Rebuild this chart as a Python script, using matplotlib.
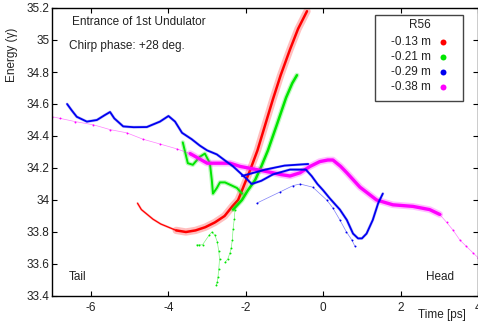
import matplotlib
matplotlib.use("Agg")
import matplotlib.pyplot as plt
from matplotlib.lines import Line2D
from matplotlib.patches import Rectangle

plt.rcParams["font.family"] = ["Liberation Sans", "DejaVu Sans"]
plt.rcParams["axes.unicode_minus"] = False

# ---- data (time [ps], energy [gamma]) ----
red_tail_t = [-4.80, -4.70, -4.55, -4.40, -4.20, -4.00, -3.80]
red_tail_e = [33.98, 33.94, 33.91, 33.88, 33.85, 33.83, 33.81]
red_band_t = [-3.80, -3.55, -3.30, -3.05, -2.80, -2.55, -2.35, -2.20, -2.05,
              -1.90, -1.70, -1.50, -1.30, -1.10, -0.86, -0.65, -0.42]
red_band_e = [33.81, 33.80, 33.81, 33.83, 33.86, 33.90, 33.96, 34.00, 34.09,
              34.18, 34.31, 34.47, 34.63, 34.78, 34.94, 35.07, 35.18]

green_band_t = [-2.33, -2.10, -1.95, -1.76, -1.60, -1.43, -1.20, -0.96, -0.80, -0.68]
green_band_e = [33.94, 34.00, 34.06, 34.125, 34.21, 34.31, 34.47, 34.64, 34.73, 34.78]
green_squig_t = [-3.63, -3.50, -3.37, -3.19, -3.06, -2.93, -2.88, -2.85,
                 -2.75, -2.67, -2.54, -2.36, -2.23, -2.10]
green_squig_e = [34.36, 34.23, 34.22, 34.27, 34.29, 34.23, 34.125, 34.04,
                 34.075, 34.11, 34.11, 34.09, 34.075, 34.04]
green_left_t = [-3.27, -3.20, -3.12, -2.95, -2.88, -2.80, -2.74, -2.70,
                -2.68, -2.70, -2.72, -2.74, -2.76]
green_left_e = [33.72, 33.72, 33.72, 33.78, 33.80, 33.78, 33.74, 33.68,
                33.63, 33.57, 33.52, 33.49, 33.47]
green_col_t = [-2.28, -2.30, -2.33, -2.35, -2.38, -2.41, -2.47, -2.54]
green_col_e = [33.94, 33.88, 33.82, 33.75, 33.70, 33.67, 33.63, 33.61]

blue_main_t = [-6.62, -6.50, -6.37, -6.11, -5.85, -5.65, -5.51, -5.40, -5.17,
               -4.90, -4.56, -4.22, -4.00, -3.83, -3.65, -3.40, -3.19, -3.00,
               -2.75, -2.50, -2.33, -2.15, -1.97, -1.85, -1.60, -1.30, -0.86,
               -0.45, -0.30, -0.15, 0.00, 0.17, 0.43, 0.61, 0.77, 0.90, 1.00,
               1.12, 1.28, 1.42, 1.54]
blue_main_e = [34.60, 34.56, 34.52, 34.49, 34.50, 34.53, 34.55, 34.51, 34.46,
               34.455, 34.456, 34.49, 34.525, 34.49, 34.42, 34.38, 34.34, 34.31,
               34.285, 34.24, 34.21, 34.17, 34.13, 34.10, 34.12, 34.16, 34.19,
               34.19, 34.15, 34.10, 34.06, 34.01, 33.94, 33.875, 33.79, 33.76, 33.76,
               33.79, 33.875, 33.98, 34.04]
blue_upper_t = [-2.10, -1.80, -1.50, -1.30, -1.00, -0.70, -0.39]
blue_upper_e = [34.15, 34.17, 34.19, 34.20, 34.215, 34.22, 34.225]
blue_lower_t = [-1.72, -1.12, -0.78, -0.60, -0.27, 0.09, 0.25, 0.43, 0.60, 0.74, 0.82]
blue_lower_e = [33.98, 34.05, 34.09, 34.10, 34.08, 34.00, 33.95, 33.875, 33.80, 33.75, 33.71]

mag_left_t = [-7.00, -6.80, -6.41, -5.94, -5.51, -5.08, -4.66, -4.22, -3.79, -3.44]
mag_left_e = [34.52, 34.51, 34.49, 34.47, 34.44, 34.42, 34.38, 34.35, 34.32, 34.29]
mag_band_t = [-3.44, -3.00, -2.67, -2.41, -2.15, -1.72, -1.30, -1.12, -0.86,
              -0.60, -0.34, -0.09, 0.12, 0.25, 0.45, 0.61, 0.95, 1.38, 1.80,
              2.32, 2.75, 3.01]
mag_band_e = [34.29, 34.23, 34.23, 34.23, 34.21, 34.19, 34.17, 34.16, 34.15,
              34.17, 34.21, 34.24, 34.25, 34.25, 34.21, 34.17, 34.08, 34.00, 33.97,
              33.96, 33.94, 33.91]
mag_tail_t = [3.01, 3.19, 3.36, 3.53, 3.70, 3.87, 4.00]
mag_tail_e = [33.91, 33.86, 33.81, 33.75, 33.71, 33.67, 33.64]

r56_labels = ["-0.13 m", "-0.21 m", "-0.29 m", "-0.38 m"]
colors = ["#ff0000", "#00e600", "#0000f0", "#ff00ff"]

x_ticks = [-6, -4, -2, 0, 2, 4]
y_ticks = [33.4, 33.6, 33.8, 34.0, 34.2, 34.4, 34.6, 34.8, 35.0, 35.2]
y_tick_labels = ["33.4", "33.6", "33.8", "34", "34.2", "34.4", "34.6", "34.8", "35", "35.2"]

W, H = 478, 327
txt = "#222222"
fs = 8.5


def band(ax, t, e, c, lw, halo):
    # sparse scatter look: faint wide halo under a solid core
    if halo:
        ax.plot(t, e, color=c, lw=lw + halo, alpha=0.25, solid_capstyle="round")
    ax.plot(t, e, color=c, lw=lw, solid_capstyle="round")


def sparse(ax, t, e, c):
    ax.plot(t, e, color=c, lw=0.5, alpha=0.5)
    ax.plot(t, e, "o", color=c, ms=1.4, mew=0)


def fx(px):
    return px / W


def fy(py):
    return 1 - py / H


fig = plt.figure(figsize=(W / 100, H / 100), dpi=100)
ax = fig.add_axes([fx(52.4), 31 / H, 425.6 / W, 288 / H])

# red
band(ax, red_tail_t, red_tail_e, colors[0], 0.9, 0.8)
band(ax, red_band_t, red_band_e, colors[0], 1.8, 3.5)
# green
band(ax, green_band_t, green_band_e, colors[1], 1.8, 1.8)
band(ax, green_squig_t, green_squig_e, colors[1], 1.4, 1.8)
sparse(ax, green_left_t, green_left_e, colors[1])
sparse(ax, green_col_t, green_col_e, colors[1])
# magenta
sparse(ax, mag_left_t, mag_left_e, colors[3])
band(ax, mag_band_t, mag_band_e, colors[3], 2.4, 2.4)
sparse(ax, mag_tail_t, mag_tail_e, colors[3])
# blue
band(ax, blue_main_t, blue_main_e, colors[2], 1.3, 0.8)
band(ax, blue_upper_t, blue_upper_e, colors[2], 1.3, 0.6)
sparse(ax, blue_lower_t, blue_lower_e, colors[2])

ax.set_xlim(-7, 4)
ax.set_ylim(33.4, 35.2)
ax.set_xticks(x_ticks)
ax.set_yticks(y_ticks)
ax.set_yticklabels(y_tick_labels)
ax.tick_params(direction="in", top=True, right=True, length=3.5, width=0.8,
               labelsize=fs, labelcolor=txt)
ax.tick_params(axis="x", pad=4.5)
ax.tick_params(axis="y", pad=2)
for s in ax.spines.values():
    s.set_linewidth(1.0)

ax.text(-6.49, 35.11, "Entrance of 1st Undulator", fontsize=fs, va="center", color=txt)
ax.text(-6.57, 34.96, "Chirp phase: +28 deg.", fontsize=fs, va="center", color=txt)
ax.text(-6.57, 33.52, "Tail", fontsize=fs, va="center", color=txt)
ax.text(2.65, 33.52, "Head", fontsize=fs, va="center", color=txt)

fig.text(fx(12), fy(55), "Energy (\u03b3)", rotation=90, fontsize=fs,
         ha="center", va="center", color=txt)
fig.text(fx(442), fy(315), "Time [ps]", fontsize=fs,
         ha="center", va="center", color=txt)

# legend box drawn by hand to match the gnuplot key
fig.add_artist(Rectangle((fx(375), fy(101)), (463 - 375) / W, (101 - 15) / H,
                         transform=fig.transFigure, facecolor="white",
                         edgecolor="#444444", lw=1.0))
fig.text(fx(420), fy(25), "R56", fontsize=fs, ha="center", va="center", color=txt)
for i, (lab, c) in enumerate(zip(r56_labels, colors)):
    ypx = 42 + i * 15
    fig.text(fx(431), fy(ypx), lab, fontsize=fs, ha="right", va="center", color=txt)
    fig.add_artist(Line2D([fx(443)], [fy(ypx)], transform=fig.transFigure,
                          ls="none", marker="o", ms=4.3, mew=0, color=c))

fig.savefig("out.png", dpi=100)
